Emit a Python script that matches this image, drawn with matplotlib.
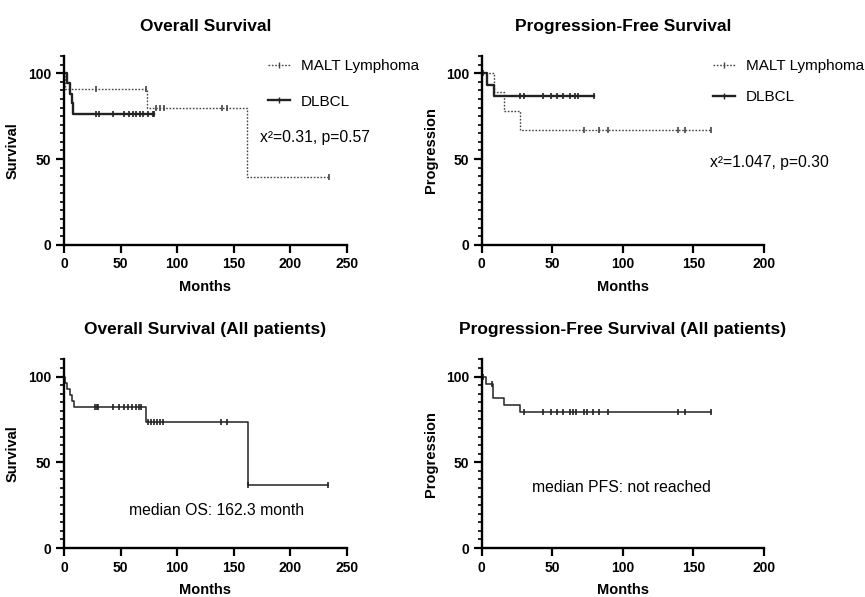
import numpy as np
import matplotlib.pyplot as plt
from matplotlib.lines import Line2D

plt.rcParams['font.family'] = ['Liberation Sans', 'DejaVu Sans']

# ---- Overall survival by group (months, % surviving) ----
os_malt_t = [0, 1.0, 73.1, 162.1, 233.8]
os_malt_s = [100, 90.9, 79.5, 39.8, 39.8]
os_malt_cens = [28, 72.5, 81.6, 84.5, 88.5, 139.4, 143.9, 233.8]

os_dlbcl_t = [0, 2.4, 5.3, 6.8, 7.7, 79.6]
os_dlbcl_s = [100, 94.1, 88.2, 82.4, 76.5, 76.5]
os_dlbcl_cens = [28, 30.5, 43.6, 53, 57, 60.7, 64, 67, 69.6, 74.6, 78.4, 79.6]

# ---- Progression-free survival by group ----
pfs_malt_t = [0, 8.3, 15.8, 27.1, 162.7]
pfs_malt_s = [100, 88.9, 77.8, 66.7, 66.7]
pfs_malt_cens = [1.2, 72.4, 83.3, 89.6, 139.2, 143.9, 162.7]

pfs_dlbcl_t = [0, 3.5, 8.3, 79.7]
pfs_dlbcl_s = [100, 93.3, 86.7, 86.7]
pfs_dlbcl_cens = [27.1, 30.2, 43.6, 49, 53.5, 57.8, 62.5, 66, 68.4, 79.7]

# ---- All patients ----
os_all_t = [0, 1.0, 2.5, 5.5, 6.8, 8.8, 72.3, 162.2, 233.5]
os_all_s = [100, 96.4, 92.9, 89.3, 85.7, 82.1, 73.7, 36.6, 36.6]
os_all_cens = [27.3, 28.8, 30.3, 43.5, 48.8, 52.9, 56.7, 60.5, 64, 66.4, 68.4,
               74.5, 77, 79.5, 82, 84.5, 87.5, 139, 144.2, 162.5, 233.5]

pfs_all_t = [0, 3.1, 8.0, 16.0, 27.1, 162.7]
pfs_all_s = [100, 95.8, 87.5, 83.3, 79.2, 79.2]
pfs_all_cens = [1.2, 7.0, 30.2, 43.2, 49, 53, 57.3, 62.5, 65, 66.7, 72.4, 74.3,
                79, 83.3, 89.6, 139.2, 144.3, 162.7]


def level_at(t, s, x):
    idx = np.searchsorted(t, x, side='right') - 1
    return np.array(s)[idx]


def km(ax, t, s, cens, ls, lw, color):
    ax.plot(t, s, drawstyle='steps-post', ls=ls, lw=lw, color=color, clip_on=False)
    ax.plot(cens, level_at(t, s, cens), ls='none', marker='|', ms=4,
            mew=1.2, color=color, clip_on=False)


def style(ax, title, ylabel, xmax, xstep):
    ax.set_xlim(0, xmax)
    ax.set_ylim(0, 110)
    ax.set_xticks(np.arange(0, xmax + 1, xstep))
    ax.set_yticks([0, 50, 100])
    ax.set_yticks(np.arange(0, 111, 5), minor=True)
    ax.spines['top'].set_visible(False)
    ax.spines['right'].set_visible(False)
    for sp in ['left', 'bottom']:
        ax.spines[sp].set_linewidth(1.7)
    ax.tick_params(which='major', length=6, width=1.6, labelsize=10, pad=3)
    ax.tick_params(which='minor', length=3, width=1.2)
    for lab in ax.get_xticklabels() + ax.get_yticklabels():
        lab.set_fontweight('bold')
    ax.set_title(title, fontsize=12.5, fontweight='bold', pad=18)
    ax.set_ylabel(ylabel, fontsize=10.5, fontweight='bold', labelpad=6)
    ax.set_xlabel('Months', fontsize=10.5, fontweight='bold', labelpad=6)


fig = plt.figure(figsize=(8.65, 5.97), dpi=100)
ax1 = fig.add_axes([0.074, 0.590, 0.327, 0.316])
ax2 = fig.add_axes([0.557, 0.590, 0.326, 0.316])
ax3 = fig.add_axes([0.074, 0.082, 0.327, 0.316])
ax4 = fig.add_axes([0.557, 0.082, 0.326, 0.316])

dark = '#222222'
grey = '#444444'
dots = (0, (1.2, 1.2))

km(ax1, os_malt_t, os_malt_s, os_malt_cens, dots, 1.0, grey)
km(ax1, os_dlbcl_t, os_dlbcl_s, os_dlbcl_cens, '-', 1.7, dark)
style(ax1, 'Overall Survival', 'Survival', 250, 50)

km(ax2, pfs_malt_t, pfs_malt_s, pfs_malt_cens, dots, 1.0, grey)
km(ax2, pfs_dlbcl_t, pfs_dlbcl_s, pfs_dlbcl_cens, '-', 1.7, dark)
style(ax2, 'Progression-Free Survival', 'Progression', 200, 50)

km(ax3, os_all_t, os_all_s, os_all_cens, '-', 1.1, dark)
style(ax3, 'Overall Survival (All patients)', 'Survival', 250, 50)

km(ax4, pfs_all_t, pfs_all_s, pfs_all_cens, '-', 1.1, dark)
style(ax4, 'Progression-Free Survival (All patients)', 'Progression', 200, 50)

# legends
h_malt = Line2D([], [], ls=dots, lw=1.0, color=grey, marker='|', ms=4)
h_dlbcl = Line2D([], [], ls='-', lw=1.7, color=dark, marker='|', ms=4)
for x0, sp in [(0.310, 1.42), (0.824, 1.12)]:
    fig.legend([h_malt, h_dlbcl], ['MALT Lymphoma', 'DLBCL'], loc='upper left',
               bbox_to_anchor=(x0, 0.901), frameon=False, fontsize=11,
               handlelength=1.45, handletextpad=0.7, labelspacing=sp,
               borderpad=0, borderaxespad=0)

ax1.text(0.693, 0.566, 'x\u00b2=0.31, p=0.57', transform=ax1.transAxes,
         fontsize=11.3, va='center')
ax2.text(0.809, 0.434, 'x\u00b2=1.047, p=0.30', transform=ax2.transAxes,
         fontsize=11.3, va='center')
ax3.text(0.541, 0.197, 'median OS: 162.3 month', transform=ax3.transAxes,
         fontsize=11.3, ha='center', va='center')
ax4.text(0.496, 0.319, 'median PFS: not reached', transform=ax4.transAxes,
         fontsize=11.3, ha='center', va='center')

fig.savefig('out.png', dpi=100)
